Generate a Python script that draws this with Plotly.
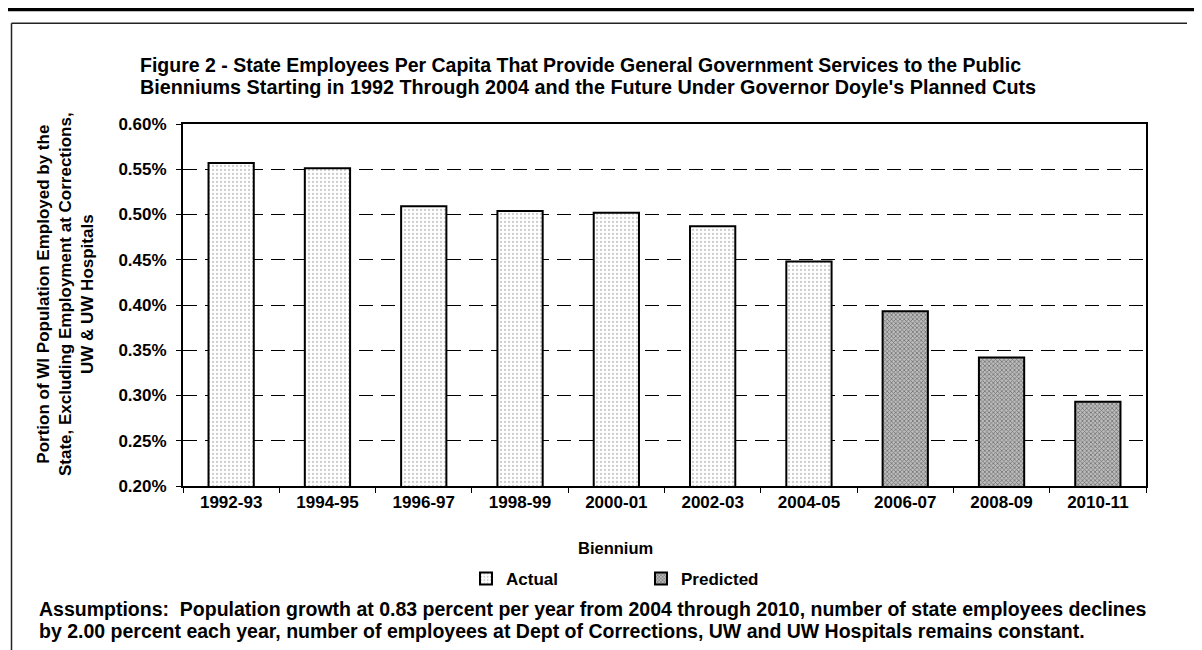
import plotly.graph_objects as go

# ---- data ----
actual_bienniums = ["1992-93", "1994-95", "1996-97", "1998-99", "2000-01", "2002-03", "2004-05"]
actual_values = [0.557, 0.551, 0.509, 0.504, 0.502, 0.487, 0.448]
predicted_bienniums = ["2006-07", "2008-09", "2010-11"]
predicted_values = [0.393, 0.342, 0.293]
y_ticks = [0.20, 0.25, 0.30, 0.35, 0.40, 0.45, 0.50, 0.55, 0.60]

# ---- layout geometry (screen pixels; page has an 8px body margin) ----
W, H = 1202, 650
OFF = 8
PLOT_L, PLOT_R, PLOT_T, PLOT_B = 183, 1146, 124, 486
ML, MT = PLOT_L - OFF, PLOT_T - OFF
MR, MB = W - (PLOT_R - OFF), H - (PLOT_B - OFF)
PW, PH = PLOT_R - PLOT_L, PLOT_B - PLOT_T


def px(x):
    return (x - PLOT_L) / PW


def py(y):
    return (PLOT_B - y) / PH


FONT = "Arial, 'Liberation Sans', sans-serif"

fig = go.Figure()
fig.add_trace(go.Bar(
    x=actual_bienniums, y=actual_values, name="Actual",
    marker=dict(color="white", line=dict(color="black", width=2),
                pattern=dict(shape=".", fgcolor="#9a9a9a", bgcolor="white", size=4, solidity=0.25)),
))
fig.add_trace(go.Bar(
    x=predicted_bienniums, y=predicted_values, name="Predicted",
    marker=dict(color="#bbbbbb", line=dict(color="black", width=2),
                pattern=dict(shape="x", fgcolor="#2a2a2a", bgcolor="#bcbcbc", size=3, solidity=0.45)),
))

fig.update_layout(
    width=W, height=H,
    margin=dict(l=ML, r=MR, t=MT, b=MB, pad=0),
    paper_bgcolor="white", plot_bgcolor="white",
    barmode="overlay", bargap=0.53,
    font=dict(family=FONT, size=17, color="black"),
    showlegend=True,
    legend=dict(orientation="h", x=px(466), y=py(579), xanchor="left", yanchor="middle",
                entrywidth=130, font=dict(family=FONT, size=17, color="black", weight="bold"),
                bgcolor="rgba(0,0,0,0)", itemwidth=30, tracegroupgap=0),
    xaxis=dict(
        type="category",
        categoryorder="array", categoryarray=actual_bienniums + predicted_bienniums,
        showline=True, linecolor="black", linewidth=2, mirror=True,
        ticks="outside", tickson="boundaries", ticklen=5, tickcolor="black", tickwidth=1,
        tickfont=dict(family=FONT, size=17, color="black", weight="bold"),
        showgrid=False,
    ),
    yaxis=dict(
        range=[0.20, 0.60], tickvals=y_ticks,
        ticktext=[f"{v:.2f}%" for v in y_ticks],
        showline=True, linecolor="black", linewidth=2, mirror=True,
        ticks="outside", ticklen=5, tickcolor="black", tickwidth=1,
        ticklabelstandoff=6,
        tickfont=dict(family=FONT, size=17, color="black", weight="bold"),
        showgrid=True, gridcolor="black", gridwidth=1, griddash="14px,8px",
        zeroline=False,
    ),
)

title_lines = [
    "Figure 2 - State Employees Per Capita That Provide General Government Services to the Public",
    "Bienniums Starting in 1992 Through 2004 and the Future Under Governor Doyle's Planned Cuts",
]
note_lines = [
    "Assumptions:  Population growth at 0.83 percent per year from 2004 through 2010, number of state employees declines",
    "by 2.00 percent each year, number of employees at Dept of Corrections, UW and UW Hospitals remains constant.",
]
bold = lambda s: dict(family=FONT, size=s, color="black", weight="bold")

annotations = [
    dict(text=title_lines[0], x=px(138), y=py(65), xanchor="left", yanchor="middle", font=bold(19.5)),
    dict(text=title_lines[1], x=px(138), y=py(87), xanchor="left", yanchor="middle", font=bold(19.8)),
    dict(text="Portion of WI Population Employed by the<br>State, Excluding Employment at Corrections,<br>UW & UW Hospitals",
         x=px(65), y=py(294), xanchor="center", yanchor="middle", align="center", textangle=-90,
         font=bold(17)),
    dict(text="Biennium", x=px(615), y=py(548), xanchor="center", yanchor="middle", font=bold(16.5)),
    dict(text=note_lines[0], x=px(37), y=py(609), xanchor="left", yanchor="middle", align="left", font=bold(19.5)),
    dict(text=note_lines[1], x=px(37), y=py(631), xanchor="left", yanchor="middle", align="left", font=bold(19.5)),
]
for a in annotations:
    a.update(xref="paper", yref="paper", showarrow=False)
fig.update_layout(annotations=annotations)

shapes = [
    dict(type="line", x0=px(0), x1=px(W + 10), y0=py(9.5), y1=py(9.5), line=dict(color="black", width=3.5)),
    dict(type="line", x0=px(11.5), x1=px(1187), y0=py(23.3), y1=py(23.3), line=dict(color="#222", width=1.5)),
    dict(type="line", x0=px(11.5), x1=px(11.5), y0=py(23.3), y1=py(H + 10), line=dict(color="#222", width=1.5)),
]
for s in shapes:
    s.update(xref="paper", yref="paper", layer="above")
fig.update_layout(shapes=shapes)

fig.write_html("out.html")
